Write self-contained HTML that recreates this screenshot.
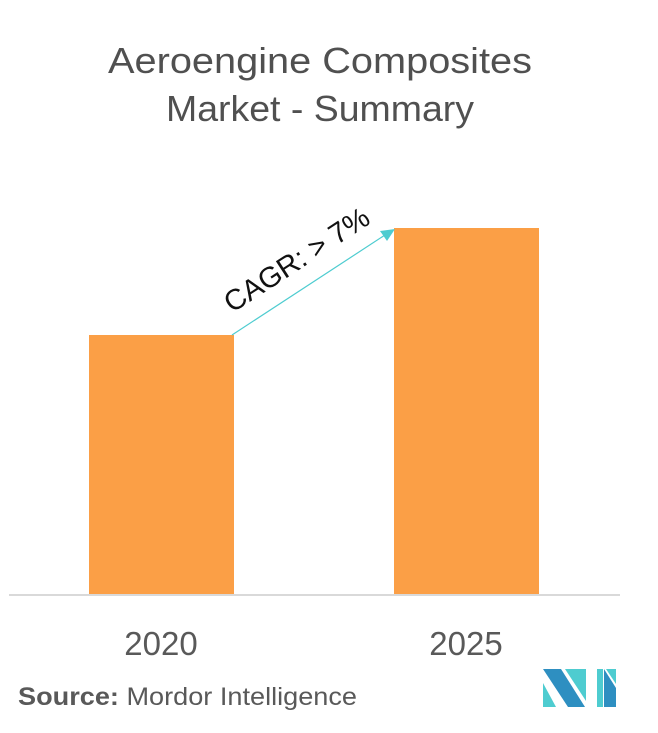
<!DOCTYPE html>
<html><head><style>
body{margin:0;width:658px;height:733px;background:#fff;overflow:hidden;font-family:"Liberation Sans",sans-serif}
</style></head><body>
<svg width="658" height="733" xmlns="http://www.w3.org/2000/svg" style="position:absolute;left:0;top:0">
<text x="108" y="73" textLength="424" lengthAdjust="spacingAndGlyphs" font-size="36" fill="#505050" font-family="Liberation Sans">Aeroengine Composites</text>
<text x="166" y="121" textLength="308" lengthAdjust="spacingAndGlyphs" font-size="36" fill="#505050" font-family="Liberation Sans">Market - Summary</text>
<rect x="89" y="335" width="145" height="260" fill="#FB9F46"/>
<rect x="394" y="228" width="145" height="367" fill="#FB9F46"/>
<rect x="9" y="594" width="611" height="2" fill="#d9d9d9"/>
<line x1="232" y1="335" x2="385" y2="235" stroke="#4ECCD0" stroke-width="1.2"/>
<polygon points="395,229 380,231 387,241" fill="#4ECCD0"/>
<text transform="translate(302,268) rotate(-33)" text-anchor="middle" font-size="29" fill="#111" font-family="Liberation Sans">CAGR: &gt; 7%</text>
<text x="161" y="655" text-anchor="middle" font-size="33" fill="#595959" font-family="Liberation Sans">2020</text>
<text x="466" y="655" text-anchor="middle" font-size="33" fill="#595959" font-family="Liberation Sans">2025</text>
<text x="18" y="705" textLength="339" lengthAdjust="spacingAndGlyphs" font-size="25" fill="#595959" font-family="Liberation Sans"><tspan font-weight="bold">Source:</tspan> Mordor Intelligence</text>
<g>
<polygon points="543,669 561,669 585,707 568,707" fill="#2E8FC1"/>
<polygon points="543,683 543,707 556,707" fill="#4ECCD0"/>
<polygon points="565,669 586,669 586,701" fill="#4ECCD0"/>
<rect x="597" y="669" width="6" height="38" fill="#4ECCD0"/>
<polygon points="604,669 616,688 616,707 604,707" fill="#2E8FC1"/>
<polygon points="606,669 616,669 616,684" fill="#4ECCD0"/>
</g>
</svg>
</body></html>
